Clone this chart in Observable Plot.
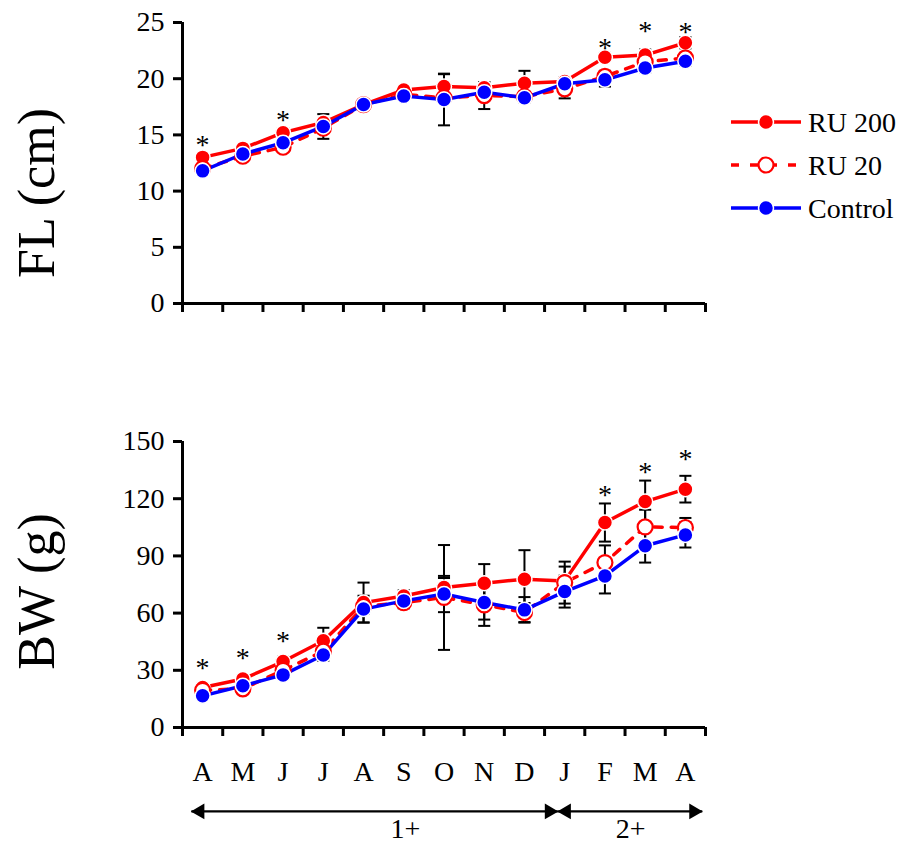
<!DOCTYPE html>
<html>
<head>
<meta charset="utf-8">
<script src="https://cdn.jsdelivr.net/npm/d3@7"></script>
<script src="https://cdn.jsdelivr.net/npm/@observablehq/plot@0.6"></script>
<style>
  html, body { margin: 0; padding: 0; background: white; }
  #wrap { position: relative; width: 903px; height: 845px; font-family: 'Liberation Serif', serif; }
  #wrap > svg, #wrap > figure { position: absolute; margin: 0; }
  #wrap text { font-family: 'Liberation Serif', 'Times New Roman', serif; }
</style>
</head>
<body>
<div id="wrap"></div>
<script>
// ---------- data ----------
const months = ["A","M","J","J","A","S","O","N","D","J","F","M","A"];
const seriesNames = ["RU 200", "RU 20", "Control"];

const flTicks = [0, 5, 10, 15, 20, 25];
const flRU200 = [13.0, 13.8, 15.2, 16.1, 17.7, 19.0, 19.3, 19.2, 19.6, 19.75, 21.9, 22.1, 23.2];
const flRU20  = [12.0, 13.1, 13.9, 15.6, 17.7, 18.6, 18.3, 18.5, 18.4, 19.1, 20.2, 21.5, 21.85];
const flCtrl  = [11.8, 13.3, 14.3, 15.75, 17.7, 18.45, 18.15, 18.8, 18.3, 19.55, 19.9, 20.95, 21.55];
const flRU200se = [0.3, 0.3, 0.4, 0.3, 0.3, 0.3, 1.1, 0.5, 1.1, 0.4, 0.4, 0.5, 0.5];
const flRU20se  = [0.3, 0.3, 0.4, 0.4, 0.3, 0.3, 0.4, 1.2, 0.4, 0.85, 0.5, 0.5, 0.4];
const flCtrlse  = [0.3, 0.3, 0.3, 1.1, 0.3, 0.3, 2.3, 0.5, 0.4, 0.3, 0.6, 0.4, 0.4];
const flStarIdx = [0, 2, 10, 11, 12];
const flStarY   = [14.3, 16.5, 22.95, 24.4, 24.3];

const bwTicks = [0, 30, 60, 90, 120, 150];
const bwRU200 = [21.0, 25.4, 34.6, 45.5, 65.5, 69.0, 73.4, 75.7, 77.8, 76.9, 107.5, 118.5, 125.0];
const bwRU20  = [19.5, 20.3, 30.0, 40.0, 63.5, 65.5, 68.2, 64.3, 60.3, 76.0, 86.5, 105.2, 104.9];
const bwCtrl  = [16.6, 21.9, 27.6, 38.0, 62.1, 66.4, 70.0, 65.6, 61.7, 71.3, 79.5, 95.3, 101.0];
const bwRU200se = [1.5, 2.0, 2.5, 6.8, 10.5, 3.0, 5.0, 10.0, 15.2, 7.5, 10.0, 11.0, 7.0];
const bwRU20se  = [1.5, 2.0, 2.0, 4.0, 4.0, 3.0, 27.5, 11.0, 5.0, 11.0, 9.0, 9.0, 5.0];
const bwCtrlse  = [1.5, 2.0, 2.0, 3.0, 7.0, 3.0, 9.5, 9.0, 6.7, 8.4, 9.2, 8.8, 6.6];
const bwStarIdx = [0, 1, 2, 10, 11, 12];
const bwStarY   = [32.4, 37.6, 46.3, 123.2, 135.0, 141.6];

const ageGroups = [
  {label: "1+", from: 0.22, to: 9.33, mid: 5.54},
  {label: "2+", from: 9.33, to: 12.92, mid: 11.14}
];

// ---------- styles ----------
const RED = "#ff0000", BLUE = "#0000ff";
const FONT = "'Liberation Serif', 'Times New Roman', serif";
const W = 903, ML = 182, MR = 198;

const rows = (vals, ses, name) => vals.map((v, i) => ({i, x: i + 0.5, y: v, lo: v - ses[i], hi: v + ses[i], name}));

function panel({vals, ses, ticks, yMax, starIdx, starY, title, titleDy, height, marginTop, marginBottom, monthAxis}) {
  const a = rows(vals[0], ses[0], seriesNames[0]);
  const b = rows(vals[1], ses[1], seriesNames[1]);
  const c = rows(vals[2], ses[2], seriesNames[2]);
  const all = [...b, ...a, ...c];
  const stars = starIdx.map((k, j) => ({x: k + 0.5, y: starY[j]}));
  const marks = [
    Plot.axisY({ticks, tickSize: 9, tickPadding: 9, strokeWidth: 3, label: null, fontSize: 28, fontFamily: FONT}),
    Plot.axisX({ticks: d3.range(14), tickSize: 9, tickFormat: () => "", strokeWidth: 3, label: null}),
    Plot.ruleX([0], {strokeWidth: 3}),
    Plot.ruleY([0], {strokeWidth: 3}),
    // error bars
    Plot.link(all, {x1: "x", x2: "x", y1: "lo", y2: "hi", stroke: "black", strokeWidth: 2}),
    Plot.link(all, {x1: d => d.x - 0.15, x2: d => d.x + 0.15, y1: "hi", y2: "hi", stroke: "black", strokeWidth: 2}),
    Plot.link(all, {x1: d => d.x - 0.15, x2: d => d.x + 0.15, y1: "lo", y2: "lo", stroke: "black", strokeWidth: 2}),
    // lines
    Plot.line(b, {x: "x", y: "y", stroke: RED, strokeWidth: 3.5, strokeDasharray: "8,9"}),
    Plot.line(a, {x: "x", y: "y", stroke: RED, strokeWidth: 3.5}),
    Plot.line(c, {x: "x", y: "y", stroke: BLUE, strokeWidth: 3.5}),
    // markers
    Plot.dot(a, {x: "x", y: "y", r: 7.5, fill: RED, stroke: "white", strokeWidth: 1.5}),
    Plot.dot(b, {x: "x", y: "y", r: 7.5, fill: "white", stroke: RED, strokeWidth: 2.2}),
    Plot.dot(c, {x: "x", y: "y", r: 7.5, fill: BLUE, stroke: "white", strokeWidth: 1.5}),
    // significance stars
    Plot.text(stars, {x: "x", y: "y", text: () => "*", fontSize: 28, dy: 2, fontFamily: FONT}),
    // axis title
    Plot.text([title], {text: d => d, frameAnchor: "left", textAnchor: "middle", rotate: -90,
      dx: 37 - ML, dy: titleDy, fontSize: 52, fontFamily: FONT})
  ];
  if (monthAxis) {
    marks.push(Plot.axisX({ticks: d3.range(13).map(i => i + 0.5), tickSize: 0, tickPadding: 34,
      tickFormat: d => months[Math.floor(d)], label: null, fontSize: 28, fontFamily: FONT}));
  }
  return Plot.plot({
    width: W, height, marginLeft: ML, marginRight: MR, marginTop, marginBottom,
    style: {fontFamily: FONT, fontSize: "28px", background: "transparent", color: "black"},
    x: {domain: [0, 13], axis: null},
    y: {domain: [0, yMax], axis: null},
    marks
  });
}

const wrap = document.getElementById("wrap");

const topPanel = panel({
  vals: [flRU200, flRU20, flCtrl], ses: [flRU200se, flRU20se, flCtrlse],
  ticks: flTicks, yMax: 25, starIdx: flStarIdx, starY: flStarY,
  title: "FL (cm)", titleDy: 30, height: 330, marginTop: 22, marginBottom: 27, monthAxis: false
});
topPanel.style.left = "0px"; topPanel.style.top = "0px";
wrap.appendChild(topPanel);

const bottomPanel = panel({
  vals: [bwRU200, bwRU20, bwCtrl], ses: [bwRU200se, bwRU20se, bwCtrlse],
  ticks: bwTicks, yMax: 150, starIdx: bwStarIdx, starY: bwStarY,
  title: "BW (g)", titleDy: 7, height: 470, marginTop: 111, marginBottom: 73, monthAxis: true
});
bottomPanel.style.left = "0px"; bottomPanel.style.top = "330px";
wrap.appendChild(bottomPanel);

// age-class arrows
const arrows = Plot.plot({
  width: W, height: 55, marginLeft: ML, marginRight: MR, marginTop: 0, marginBottom: 0,
  style: {fontFamily: FONT, fontSize: "28px", background: "transparent", color: "black"},
  x: {domain: [0, 13], axis: null},
  y: {domain: [0, 1], axis: null},
  marks: [
    Plot.link(ageGroups, {x1: "from", x2: "to", y1: () => 0.62, y2: () => 0.62, stroke: "black", strokeWidth: 2.2}),
    Plot.dot(ageGroups, {x: "from", y: () => 0.62, symbol: "triangle", r: 5.8, rotate: -90, fill: "black", dx: 8.5}),
    Plot.dot(ageGroups, {x: "to", y: () => 0.62, symbol: "triangle", r: 5.8, rotate: 90, fill: "black", dx: -8.5}),
    Plot.text(ageGroups, {x: "mid", y: () => 0.30, text: "label", fontSize: 28, fontFamily: FONT})
  ]
});
arrows.style.left = "0px"; arrows.style.top = "790px";
wrap.appendChild(arrows);

// legend
const legendItems = [
  {name: seriesNames[0], color: RED, fill: RED, dash: null},
  {name: seriesNames[1], color: RED, fill: "white", dash: "8,11"},
  {name: seriesNames[2], color: BLUE, fill: BLUE, dash: null}
];
const lg = d3.create("svg").attr("width", 183).attr("height", 130)
  .style("left", "720px").style("top", "100px");
const g = lg.selectAll("g").data(legendItems).join("g")
  .attr("transform", (d, i) => `translate(0, ${22 + i * 43})`);
g.append("line").attr("x1", 11).attr("x2", 81).attr("y1", 0).attr("y2", 0)
  .attr("stroke", d => d.color).attr("stroke-width", 3.5)
  .attr("stroke-dasharray", d => d.dash);
g.append("circle").attr("cx", 46).attr("cy", 0).attr("r", 7.5)
  .attr("fill", d => d.fill).attr("stroke", d => d.fill === "white" ? RED : "white")
  .attr("stroke-width", d => d.fill === "white" ? 2.2 : 1.5);
g.append("text").attr("x", 88).attr("y", 0).attr("dy", "0.34em")
  .attr("font-family", FONT).attr("font-size", 28).text(d => d.name);
wrap.appendChild(lg.node());
</script>
</body>
</html>
